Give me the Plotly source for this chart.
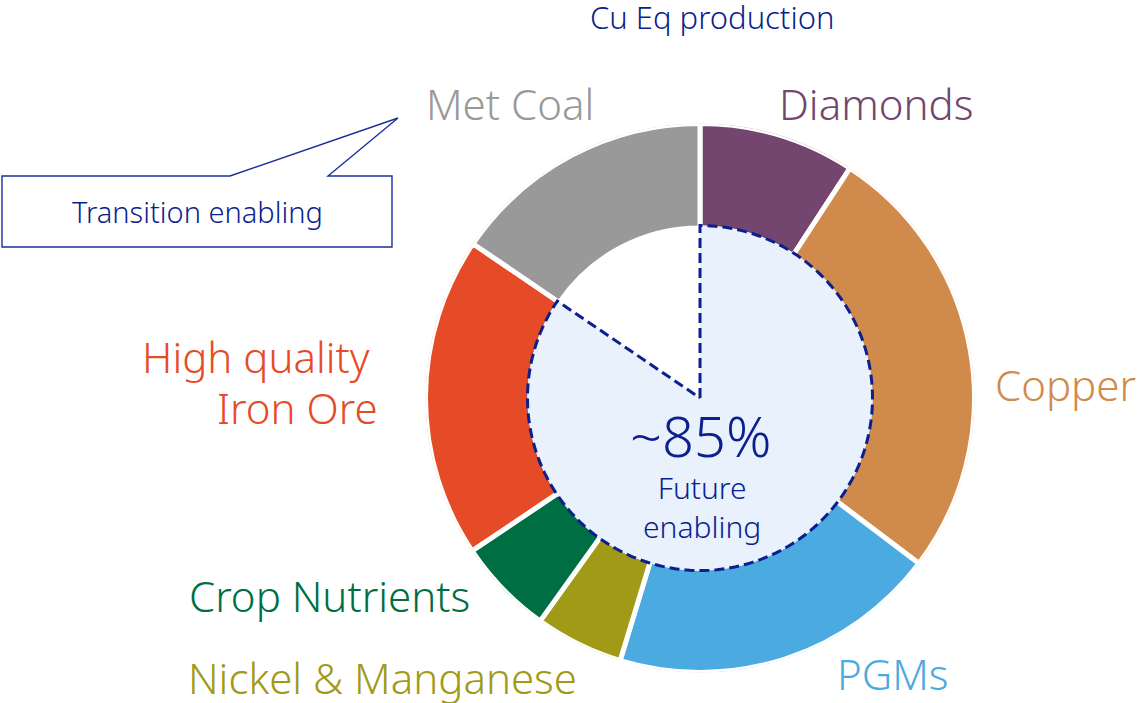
import numpy as np
import plotly.graph_objects as go

# ---------------- data ----------------
categories = ["Diamonds", "Copper", "PGMs", "Nickel & Manganese",
              "Crop Nutrients", "High quality Iron Ore", "Met Coal"]
values = [9.2, 26.1, 19.4, 5.2, 5.7, 18.9, 15.5]
colors = ["#734670", "#d08a4c", "#4baae0", "#a09a17",
          "#006e43", "#e64b27", "#999999"]
future_label = "~85%"
future_text = "Future<br>enabling"
transition_text = "Transition enabling"
title_text = "Cu Eq production"

# ---------------- geometry helpers ----------------
W, H = 1142, 703
FONT = "Noto Sans"
NAVY = "#0b1f8f"


def px(x, y):
    return x / W, 1 - y / H


vals = np.array(values, dtype=float)
total = vals.sum()
spans = vals / total * 360.0
starts = np.cumsum(spans) - spans
centers = starts + spans / 2

cx, cy, R = 700, 398, 274.5
base = 170 / R
inner_r = 172.5 / R

fig = go.Figure()

fig.add_trace(go.Barpolar(
    r=[1 - base] * len(vals), base=[base] * len(vals),
    theta=centers, width=spans,
    marker=dict(color=colors, line=dict(color="white", width=5)),
    hoverinfo="text", text=categories, showlegend=False,
))

# future-enabling sector (all but Met Coal)
future_end = spans[:-1].sum()
arc = np.linspace(0, future_end, 240)
fig.add_trace(go.Scatterpolar(
    r=[0] + [inner_r] * len(arc) + [0],
    theta=[0] + list(arc) + [future_end],
    mode="lines", fill="toself", fillcolor="#e8f1fc",
    line=dict(color=NAVY, width=3, dash="10px,5px"),
    hoverinfo="skip", showlegend=False,
))

x0, x1 = (cx - R) / W, (cx + R) / W
y0, y1 = (H - cy - R) / H, (H - cy + R) / H

fig.update_layout(
    width=W, height=H, margin=dict(l=0, r=0, t=0, b=0),
    paper_bgcolor="white", plot_bgcolor="white",
    polar=dict(
        domain=dict(x=[x0, x1], y=[y0, y1]),
        bgcolor="rgba(0,0,0,0)",
        radialaxis=dict(range=[0, 1], visible=False),
        angularaxis=dict(rotation=90, direction="clockwise", visible=False),
        hole=0,
    ),
)

# ---------------- labels ----------------
LS = 42
label_pos = {
    "Diamonds": (876, 104, "center"),
    "Copper": (1065, 384, "center"),
    "PGMs": (892, 673, "center"),
    "Nickel & Manganese": (382, 677, "center"),
    "Crop Nutrients": (329, 595, "center"),
    "Met Coal": (510, 104, "center"),
}
ann = []
for cat, col in zip(categories, colors):
    if cat in label_pos:
        x, y, anc = label_pos[cat]
        ax, ay = px(x, y)
        ann.append(dict(x=ax, y=ay, xref="paper", yref="paper", text=cat,
                        showarrow=False, xanchor=anc, yanchor="middle",
                        font=dict(family=FONT, size=LS, color=col, weight=300)))
    elif cat.startswith("High"):
        for t, (x, y) in zip(["High quality", "Iron Ore"], [(372, 356), (380, 407)]):
            ax, ay = px(x, y)
            ann.append(dict(x=ax, y=ay, xref="paper", yref="paper", text=t,
                            showarrow=False, xanchor="right", yanchor="middle",
                            font=dict(family=FONT, size=LS, color=col, weight=300)))

for t, (x, y), s in [(title_text, (712, 17), 31), (future_label, (700, 435), 56),
                     (future_text, (702, 507), 30), (transition_text, (197, 212), 29)]:
    ax, ay = px(x, y)
    ann.append(dict(x=ax, y=ay, xref="paper", yref="paper", text=t,
                    showarrow=False, xanchor="center", yanchor="middle",
                    font=dict(family=FONT, size=s, color=NAVY, weight=300)))

fig.update_layout(annotations=ann)

# callout bubble
pts = [(2, 176), (230, 176), (398, 118), (328, 176), (392, 176), (392, 247), (2, 247)]
path = "M " + " L ".join(f"{px(x, y)[0]:.5f},{px(x, y)[1]:.5f}" for x, y in pts) + " Z"
fig.add_shape(type="path", path=path, xref="paper", yref="paper",
              line=dict(color="#1c2f9a", width=1.4), fillcolor="white", layer="below")

fig.write_html("out.html", config={"displayModeBar": False},
               post_script="document.body.style.margin='0px';")
